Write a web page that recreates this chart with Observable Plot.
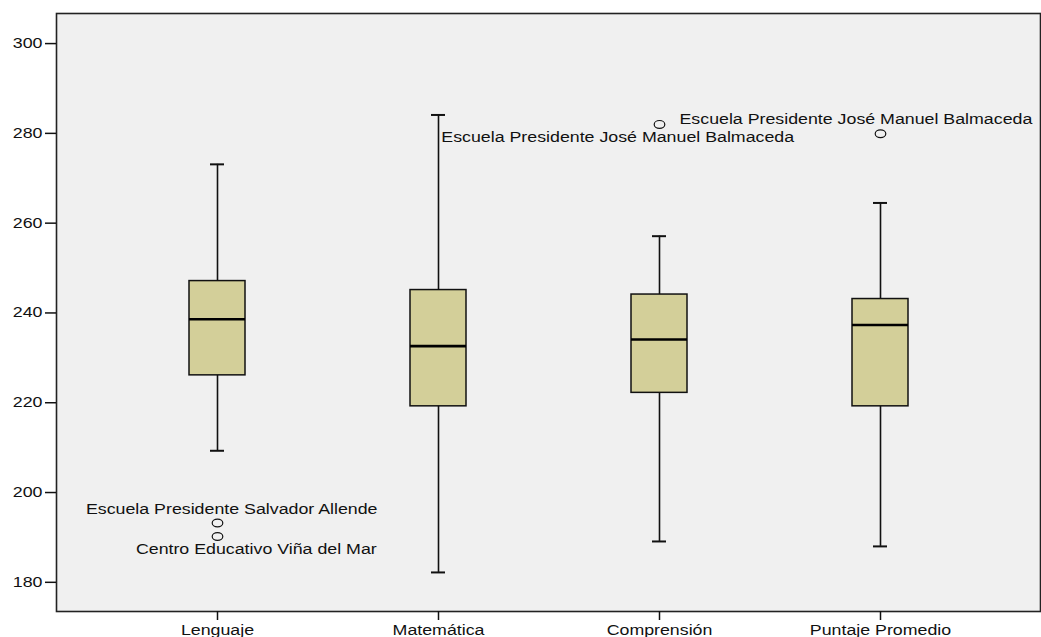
<!DOCTYPE html>
<html>
<head>
<meta charset="utf-8">
<script src="https://cdn.jsdelivr.net/npm/d3@7"></script>
<script src="https://cdn.jsdelivr.net/npm/@observablehq/plot@0.6"></script>
<style>
  html, body { margin: 0; padding: 0; background: white; }
</style>
</head>
<body>
<div id="chart"></div>
<script>
// ---- data ----
const categories = ["Lenguaje", "Matemática", "Comprensión", "Puntaje Promedio"];
const minVal    = [209.3, 182.2, 189.1, 188.0];
const q1Val     = [226.1, 219.2, 222.2, 219.2];
const medianVal = [238.6, 232.6, 234.1, 237.3];
const q3Val     = [247.1, 245.1, 244.1, 243.1];
const maxVal    = [273.1, 284.1, 257.1, 264.5];

const outlierCat = ["Lenguaje", "Lenguaje", "Comprensión", "Puntaje Promedio"];
const outlierVal = [193.2, 190.2, 282.0, 279.9];

const labelCat  = ["Lenguaje", "Lenguaje", "Matemática", "Comprensión"];
const labelVal  = [193.2, 190.2, 284.1, 282.0];
const labelText = [
  "Escuela Presidente Salvador Allende",
  "Centro Educativo Viña del Mar",
  "Escuela Presidente José Manuel Balmaceda",
  "Escuela Presidente José Manuel Balmaceda"
];

const yTicks = [180, 200, 220, 240, 260, 280, 300];

// ---- styling ----
const boxFill = "#d3cf99";
const STRETCH = 1.27; // horizontal stretch of the original's text
const labelOffsets = [[-131.6, -13.5], [-81.6, 13], [2.8, 22.5], [20, -4.5]];

// ellipse-shaped hollow outlier marker
const ellipseSymbol = {
  draw(context) {
    const rx = 5.3, ry = 3.9, k = 0.5523;
    context.moveTo(rx, 0);
    context.bezierCurveTo(rx, k * ry, k * rx, ry, 0, ry);
    context.bezierCurveTo(-k * rx, ry, -rx, k * ry, -rx, 0);
    context.bezierCurveTo(-rx, -k * ry, -k * rx, -ry, 0, -ry);
    context.bezierCurveTo(k * rx, -ry, rx, -k * ry, rx, 0);
    context.closePath();
  }
};

const idx = categories.map((_, i) => i);
const outIdx = outlierCat.map((_, i) => i);

const labelMarks = labelText.map((t, i) =>
  Plot.text([i], {
    x: () => labelCat[i],
    y: () => labelVal[i],
    text: () => labelText[i],
    textAnchor: "start",
    dx: labelOffsets[i][0],
    dy: labelOffsets[i][1],
    fill: "#111",
    fontSize: 14
  })
);

const chart = Plot.plot({
  width: 1041,
  height: 637,
  marginLeft: 56,
  marginRight: 1,
  marginTop: 13,
  marginBottom: 26,
  style: { fontFamily: "'Liberation Sans', Arial, sans-serif", fontSize: "14px", background: "white", color: "#111" },
  x: { type: "band", domain: categories, paddingInner: 0.747, paddingOuter: 0.594, label: null },
  y: { domain: [173.5, 306.7], label: null },
  marks: [
    Plot.frame({ fill: "#f0f0f0", stroke: null }),
    // whiskers
    Plot.ruleX(idx, { x: i => categories[i], y1: i => q3Val[i], y2: i => maxVal[i], stroke: "#111", strokeWidth: 1.6 }),
    Plot.ruleX(idx, { x: i => categories[i], y1: i => minVal[i], y2: i => q1Val[i], stroke: "#111", strokeWidth: 1.6 }),
    // caps
    Plot.tickY(idx, { x: i => categories[i], y: i => maxVal[i], insetLeft: 21, insetRight: 21, stroke: "#111", strokeWidth: 2 }),
    Plot.tickY(idx, { x: i => categories[i], y: i => minVal[i], insetLeft: 21, insetRight: 21, stroke: "#111", strokeWidth: 2 }),
    // boxes
    Plot.barY(idx, { x: i => categories[i], y1: i => q1Val[i], y2: i => q3Val[i], fill: boxFill, stroke: "#111", strokeWidth: 1.5 }),
    // medians
    Plot.tickY(idx, { x: i => categories[i], y: i => medianVal[i], stroke: "#000", strokeWidth: 2.6 }),
    // outliers
    Plot.dot(outIdx, { x: i => outlierCat[i], y: i => outlierVal[i], symbol: ellipseSymbol, fill: "none", stroke: "#111", strokeWidth: 1.2 }),
    ...labelMarks,
    Plot.frame({ stroke: "#222", strokeWidth: 1.6 }),
    Plot.axisY({ ticks: yTicks, tickFormat: d => d, tickSize: 11, tickPadding: 3, strokeWidth: 1.5, label: null }),
    Plot.axisX({ tickSize: 9, tickPadding: 5, strokeWidth: 1.5, label: null })
  ]
});

document.getElementById("chart").appendChild(chart);

// widen the text to match the horizontally stretched original
chart.querySelectorAll("text").forEach(t => {
  const len = t.getComputedTextLength();
  if (len > 0) {
    t.setAttribute("textLength", (len * STRETCH).toFixed(1));
    t.setAttribute("lengthAdjust", "spacingAndGlyphs");
  }
});
</script>
</body>
</html>
